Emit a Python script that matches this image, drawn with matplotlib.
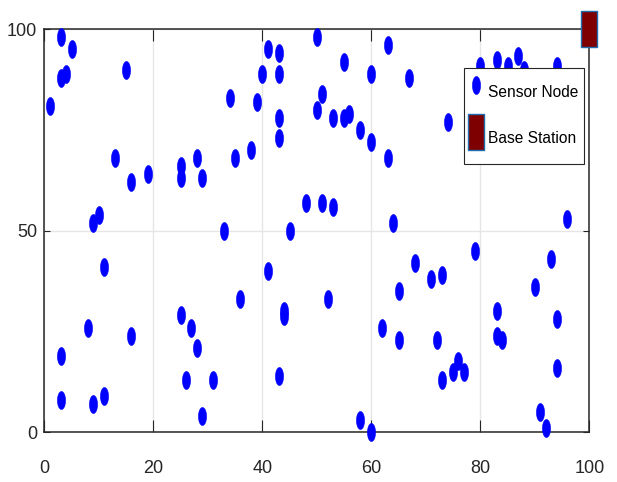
import matplotlib
matplotlib.use('Agg')
import matplotlib.pyplot as plt
from matplotlib.path import Path

plt.rcParams['font.family'] = ['Liberation Sans Narrow', 'Liberation Sans', 'DejaVu Sans']
plt.rcParams['xtick.direction'] = 'in'
plt.rcParams['ytick.direction'] = 'in'
plt.rcParams['font.size'] = 13
plt.rcParams['axes.linewidth'] = 1.1

# sensor node coordinates (field is 100 x 100)
node_x = [3, 5, 3, 4, 1, 15, 13, 16, 19, 25, 25, 28, 29, 9, 10,
          41, 43, 50, 55, 63, 40, 43, 60, 67, 34, 39, 51, 50, 43, 53,
          55, 56, 58, 60, 43, 63, 38, 35, 48, 51, 53, 64, 33, 45, 74,
          78, 80, 83, 85, 87, 88, 94, 96, 11, 8, 16, 3, 3, 9, 11,
          25, 27, 28, 26, 29, 41, 36, 44, 44, 52, 65, 62, 65, 31, 43,
          58, 60, 79, 68, 71, 73, 72, 73, 75, 76, 77, 83, 83, 84, 93,
          90, 94, 94, 91, 92]
node_y = [98, 95, 88, 89, 81, 90, 68, 62, 64, 66, 63, 68, 63, 52, 54,
          95, 94, 98, 92, 96, 89, 89, 89, 88, 83, 82, 84, 80, 78, 78,
          78, 79, 75, 72, 73, 68, 70, 68, 57, 57, 56, 52, 50, 50, 77,
          88, 91, 92.5, 91, 93.5, 90, 91, 53, 41, 26, 24, 19, 8, 7, 9,
          29, 26, 21, 13, 4, 40, 33, 30.2, 28.9, 33, 35, 26, 23, 13, 14,
          3, 0, 45, 42, 38, 39, 23, 13, 15, 17.8, 15, 30, 24, 23, 43,
          36, 28, 16, 5, 1]

# base station position
bs_x = [100]
bs_y = [100]

# tall ellipse and tall rectangle markers
circ = Path.unit_circle()
ellipse = Path(circ.vertices * [0.45, 1.0], circ.codes)
rect = Path([[-0.45, -1], [0.45, -1], [0.45, 1], [-0.45, 1], [-0.45, -1]],
            [Path.MOVETO, Path.LINETO, Path.LINETO, Path.LINETO, Path.CLOSEPOLY])

fig = plt.figure(figsize=(6.17, 4.82), dpi=100)
ax = fig.add_axes([0.0718, 0.1031, 0.8833, 0.8361])

ax.plot(node_x, node_y, linestyle='none', marker=ellipse, markersize=13,
        color='blue', markeredgewidth=0.4, label='Sensor Node',
        clip_on=False, zorder=3)
ax.plot(bs_x, bs_y, linestyle='none', marker=rect, markersize=26.5,
        markerfacecolor='#7f0000', markeredgecolor='#1f6fb0',
        markeredgewidth=1.0, label='Base Station', clip_on=False, zorder=4)

ax.set_xlim(0, 100)
ax.set_ylim(0, 100)
ax.set_xticks(range(0, 101, 20))
ax.set_yticks([0, 50, 100])
ax.grid(True, color='#e6e6e6', linewidth=1.0)
ax.set_axisbelow(True)

for s in ax.spines.values():
    s.set_color('#262626')
ax.tick_params(axis='x', top=True, length=8.6, width=0.8, pad=20,
               colors='#262626')
ax.tick_params(axis='y', right=True, length=4.3, width=0.8, pad=5,
               colors='#262626')

leg = ax.legend(loc='upper right', bbox_to_anchor=(0.9908, 0.9047),
                borderaxespad=0, fontsize=11.2, fancybox=False,
                edgecolor='#262626', framealpha=1, handlelength=0.8,
                handleheight=3.3, handletextpad=0.35, borderpad=0.4,
                labelspacing=0.6)
leg.get_frame().set_linewidth(0.8)

fig.savefig('out.png', dpi=100)
